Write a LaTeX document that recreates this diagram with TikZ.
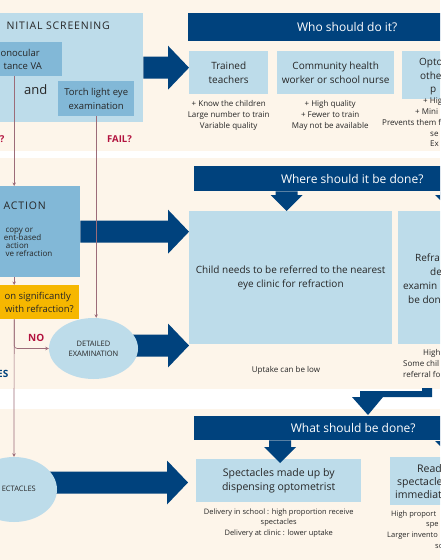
\documentclass[tikz,border=0pt]{standalone}
\usepackage{fontspec}
\setmainfont{Open Sans}
\usepackage{xcolor}
\usetikzlibrary{arrows.meta,positioning,calc,shapes.geometric}

\definecolor{cream}{HTML}{FDF5EA}
\definecolor{paleblue}{HTML}{BDDCEA}
\definecolor{midblue}{HTML}{82B8D7}
\definecolor{navy}{HTML}{00427D}
\definecolor{amber}{HTML}{F6B700}
\definecolor{crimson}{HTML}{B3133F}
\definecolor{mauve}{HTML}{9C6C79}
\definecolor{ink}{HTML}{262626}

\pgfdeclarelayer{back}
\pgfsetlayers{back,main}

\newcommand\fs[2]{\fontsize{#1}{#2}\selectfont}
% fat horizontal arrow: from start point to the x of the end point
\newcommand\hblock[2]{%
  \fill[navy] let \p1=#1, \p2=#2 in
    (\x1,{\y1+11pt}) -- ({\x2-21pt},{\y1+11pt}) -- ({\x2-21pt},{\y1+22pt})
    -- (\x2,\y1) -- ({\x2-21pt},{\y1-22pt}) -- ({\x2-21pt},{\y1-11pt})
    -- (\x1,{\y1-11pt}) -- cycle;}
% fat downward arrow: from the y of the start point to the end point
\newcommand\vblock[2]{%
  \fill[navy] let \p1=#1, \p2=#2 in
    ({\x2-11pt},\y1) -- ({\x2-11pt},{\y2+16pt}) -- ({\x2-16pt},{\y2+16pt})
    -- (\x2,\y2) -- ({\x2+16pt},{\y2+16pt}) -- ({\x2+11pt},{\y2+16pt})
    -- ({\x2+11pt},\y1) -- cycle;}

\begin{document}
\begin{tikzpicture}[x=1pt,y=-1pt,
  every node/.style={inner sep=0pt,text=ink},
  box/.style={anchor=north west,align=center,font=\fs{10}{13.5}},
  lbox/.style={box,fill=paleblue},
  mbox/.style={box,fill=midblue},
  banner/.style={anchor=north west,fill=navy,text=white,font=\fs{12}{14}},
  bubble/.style={ellipse,fill=paleblue,align=center,font=\fs{7.5}{10}},
  note/.style={align=center,font=\fs{8}{11}},
  fragl/.style={anchor=base west},
  fragr/.style={anchor=base east},
  caps/.style={font=\fs{10.5}{13}\addfontfeatures{LetterSpace=8}},
  alert/.style={font=\bfseries\fs{9.5}{12},text=crimson},
  link/.style={mauve,line width=0.7pt,-{Stealth[length=3.5pt,width=3.5pt]}}]
\useasboundingbox (0,0) rectangle (440,560);
\clip (0,0) rectangle (440,560);

% initial screening
\node[lbox,minimum width=203pt,minimum height=109pt] (init) at (-60,13) {};
\node[caps,fragr] (inittitle) at (110,29.5) {NITIAL SCREENING};
\node[mbox,minimum width=96pt,minimum height=34pt] (mono) at (-34,42) {};
\node[fragr,font=\fs{9.5}{13}] (mono1) at (40,56.5) {onocular};
\node[fragr,font=\fs{9.5}{13}] (mono2) at (42,69.5) {tance VA};
\node[fragl,font=\fs{13}{15}] (andlbl) at (24,94) {and};
\node[mbox,minimum width=76pt,minimum height=35pt,font=\fs{9.5}{14}] (torch) at (58,81) {Torch light eye\\examination};
\node[alert,fragr] (passlbl) at (4.5,142) {?};
\node[alert,fragl] (faillbl) at (107,142) {FAIL?};

% who should do it
\node[banner,minimum width=318pt,minimum height=28pt] (who) at (188,13) {Who should do it?};
\node[lbox,minimum width=79pt,minimum height=43pt,font=\fs{10}{14}] (teach) at (189,51) {Trained\\teachers};
\node[lbox,minimum width=117pt,minimum height=43pt,font=\fs{10}{14}] (chw) at (277,51) {Community health\\worker or school nurse};
\node[lbox,minimum width=104pt,minimum height=48pt] (opto) at (402,51) {};
\node[fragl,font=\fs{10}{14}] (opto1) at (419,65.5) {Opto};
\node[fragl,font=\fs{10}{14}] (opto2) at (420,79) {othe};
\node[fragl,font=\fs{10}{14}] (opto3) at (430,92.5) {p};
\node[note,below=6pt of teach] (teachnote) {+ Know the children\\Large number to train\\Variable quality};
\node[note,below=6pt of chw,xshift=-5.5pt] (chwnote) {+ High quality\\+ Fewer to train\\May not be available};
\foreach \t/\x/\y in {+ Hig/423/103.5,+ Mini/415/114,Prevents them f/382/125,se/430/136,Ex/430/146.5}
  \node[fragl,font=\fs{8}{11}] at (\x,\y) {\t};

% refraction
\node[mbox,minimum width=132pt,minimum height=91pt] (refr) at (-52,186) {};
\node[caps,fragr] (refrtitle) at (46,209.5) {ACTION};
\foreach \t/\x/\y in {copy or/5.3/232,ent-based/3.7/240.3,action/5.7/248.6,ve refraction/5.3/256.9}
  \node[fragl,font=\fs{8}{8.5}] at (\x,\y) {\t};
\node[box,fill=amber,minimum width=130pt,minimum height=34pt] (vision) at (-51,285) {};
\node[fragr,font=\fs{9.5}{13}] (vision1) at (71,299) {on significantly};
\node[fragr,font=\fs{9.5}{13}] (vision2) at (74,312) {with refraction?};
\node[alert,fragl,font=\bfseries\fs{10}{12}] (nolbl) at (28,341) {NO};
\node[alert,fragr,font=\bfseries\fs{10}{12},text=navy] (yeslbl) at (8.5,377) {ES};
\node[bubble,minimum width=89pt,minimum height=61pt] (detail) at (93.5,348.5) {DETAILED\\EXAMINATION};

% where should it be done
\node[banner,minimum width=316pt,minimum height=25pt] (where) at (194,166) {Where should it be done?};
\node[lbox,minimum width=203pt,minimum height=133pt] (clinic) at (189,211) {Child needs to be referred to the nearest\\eye clinic for refraction};
\node[lbox,minimum width=106pt,minimum height=133pt] (onsite) at (398,211) {};
\foreach \t/\x/\y in {Refra/415/261,de/430/275,examin/403/289,be don/408/303}
  \node[fragl,font=\fs{10}{13.5}] at (\x,\y) {\t};
\node[note] (clinicnote) at (286,370) {Uptake can be low};
\foreach \t/\x/\y in {High/423/355.5,Some chil/403/366.5,referral fo/403/377.5}
  \node[fragl,font=\fs{8}{11}] at (\x,\y) {\t};

% what should be done
\node[banner,minimum width=318pt,minimum height=24pt] (what) at (194,416) {What should be done?};
\node[lbox,minimum width=165pt,minimum height=43pt,font=\fs{10.5}{13.5}] (made) at (196,459) {Spectacles made up by\\dispensing optometrist};
\node[lbox,minimum width=122pt,minimum height=48pt] (ready) at (390,457) {};
\foreach \t/\x/\y in {Read/417/472,spectacle/397/485,immediat/395/498}
  \node[fragl,font=\fs{10.5}{13.5}] at (\x,\y) {\t};
\node[note,below=6pt of made,font=\fs{7.5}{10.5}] (madenote) {Delivery in school : high proportion receive\\spectacles\\Delivery at clinic : lower uptake};
\foreach \t/\x/\y in {High proport/391/516,spe/426/526.5,Larger invento/387/537,so/435/548}
  \node[fragl,font=\fs{7.5}{10.5}] at (\x,\y) {\t};
\node[bubble,minimum width=86pt,minimum height=65pt] (spec) at (14,489.5) {};
\node[fragr,font=\fs{7.5}{10}] (spec1) at (36,491.5) {ECTACLES};

\begin{pgfonlayer}{back}
\fill[white] (0,0) rectangle (440,560);
\fill[cream] (0,0) rectangle (440,151);
\fill[cream] (0,158) rectangle (440,389);
\fill[cream] (0,409) rectangle (440,560);
\hblock{(init.east)}{(teach.west)}
\hblock{(refr.east)}{(clinic.west)}
\hblock{($(detail.center)+(0,-3)$)}{(clinic.west)}
\hblock{($(spec.center)+(0,-7)$)}{($(made.west)+(-8,0)$)}
\end{pgfonlayer}

\vblock{(where.south)}{($(clinic.north)+(-4,0)$)}
\vblock{(where.south)}{(onsite.north)}
\vblock{(what.south)}{($(made.north)+(1.5,4)$)}
\vblock{(what.south)}{(ready.north)}
\fill[navy] (360,391) -- (422,391) -- (422,388) -- (432,388) -- (432,397) -- (383,397)
  -- (368,415) -- (352,397) -- (360,397) -- cycle;

% thin connectors
\draw[link] (mono.south) -- (refr.north);
\draw[link] (torch.south) -- (torch.south |- detail.north);
\draw[link] (refr.south) -- (vision.north);
\draw[link] (vision.south) -- (spec.north);
\draw[link,rounded corners=3pt] (vision.south) |- (detail.west);
\end{tikzpicture}
\end{document}
